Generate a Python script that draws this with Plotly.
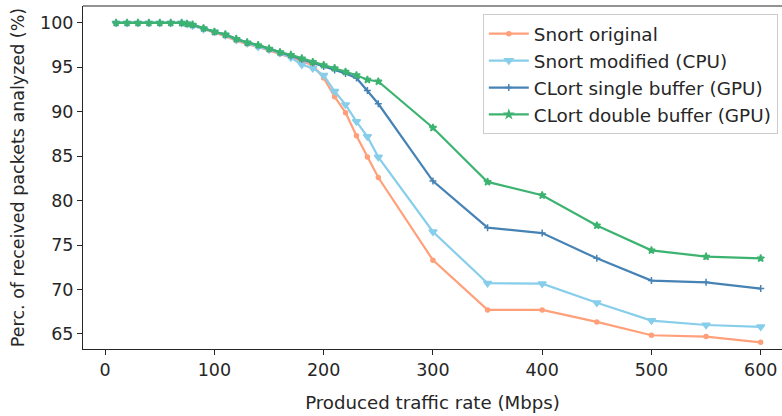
import plotly.graph_objects as go

rates = [10, 20, 30, 40, 50, 60, 70, 75, 80, 90, 100, 110, 120, 130, 140, 150, 160, 170,
         180, 190, 200, 210, 220, 230, 240, 250, 300, 350, 400, 450, 500, 550, 600]

snort_original = [100, 100, 100, 100, 100, 100, 100, 99.9, 99.7, 99.3, 98.9, 98.5, 98.0, 97.6,
                  97.3, 96.9, 96.5, 96.1, 95.7, 95.2, 93.8, 91.7, 89.9, 87.3, 84.9, 82.6,
                  73.3, 67.7, 67.7, 66.35, 64.85, 64.7, 64.05]
snort_modified = [100, 100, 100, 100, 100, 100, 100, 99.9, 99.7, 99.3, 99.0, 98.6, 98.1, 97.7,
                  97.3, 97.0, 96.6, 96.1, 95.3, 94.9, 94.1, 92.3, 90.8, 88.9, 87.2, 84.9,
                  76.5, 70.7, 70.65, 68.5, 66.5, 66.0, 65.8]
clort_single = [100, 100, 100, 100, 100, 100, 100, 99.9, 99.8, 99.4, 99.0, 98.7, 98.2, 97.8,
                97.5, 97.1, 96.7, 96.3, 95.9, 95.5, 95.1, 94.7, 94.3, 93.8, 92.4, 90.9,
                82.2, 76.95, 76.35, 73.5, 71.0, 70.8, 70.1]
clort_double = [100, 100, 100, 100, 100, 100, 100, 99.9, 99.8, 99.4, 99.0, 98.7, 98.2, 97.8,
                97.5, 97.1, 96.7, 96.4, 96.0, 95.6, 95.25, 94.9, 94.5, 94.1, 93.6, 93.4,
                88.2, 82.1, 80.6, 77.2, 74.4, 73.7, 73.5]

x_ticks = [0, 100, 200, 300, 400, 500, 600]
y_ticks = [65, 70, 75, 80, 85, 90, 95, 100]

series = [
    ("Snort original", snort_original, "#FFA07A", "circle", 4),
    ("Snort modified (CPU)", snort_modified, "#87CEEB", "triangle-down", 7),
    ("CLort single buffer (GPU)", clort_single, "#4682B4", "cross-thin", 5),
    ("CLort double buffer (GPU)", clort_double, "#3CB371", "star", 5.5),
]

fig = go.Figure()
for name, vals, color, sym, size in series:
    fig.add_trace(go.Scatter(
        x=rates, y=vals, name=name, mode="lines+markers",
        line=dict(color=color, width=2.2),
        marker=dict(symbol=sym, size=size, color=color,
                    line=dict(color=color, width=1.5)),
    ))

font = "DejaVu Sans, Verdana, sans-serif"
fig.update_layout(
    width=782, height=416,
    margin=dict(l=83, r=0, t=6, b=67),
    plot_bgcolor="white", paper_bgcolor="white",
    font=dict(family=font, size=17.5, color="#262626"),
    showlegend=True,
    legend=dict(x=0.994, y=0.976, xanchor="right", yanchor="top",
                bgcolor="rgba(255,255,255,0.85)", bordercolor="#cccccc", borderwidth=1,
                font=dict(size=18.4), itemwidth=40, tracegroupgap=0),
    xaxis=dict(range=[-20.3, 619.5], tickvals=x_ticks, showgrid=False, zeroline=False,
               showline=True, linecolor="#262626", linewidth=1,
               ticks="outside", ticklen=5, tickcolor="#262626", tickfont=dict(size=17.5),
               title=dict(text="Produced traffic rate (Mbps)", standoff=17,
                          font=dict(size=18.2))),
    yaxis=dict(range=[63.3, 101.9], tickvals=y_ticks, showgrid=False, zeroline=False,
               showline=True, linecolor="#262626", linewidth=1,
               ticks="outside", ticklen=5, tickcolor="#262626", tickfont=dict(size=17.5),
               title=dict(text="Perc. of received packets analyzed (%)", standoff=10,
                          font=dict(size=17.5))),
)
fig.add_shape(type="line", xref="paper", yref="paper", x0=0, x1=1, y0=1, y1=1,
              line=dict(color="#262626", width=1))

fig.write_html("out.html")
